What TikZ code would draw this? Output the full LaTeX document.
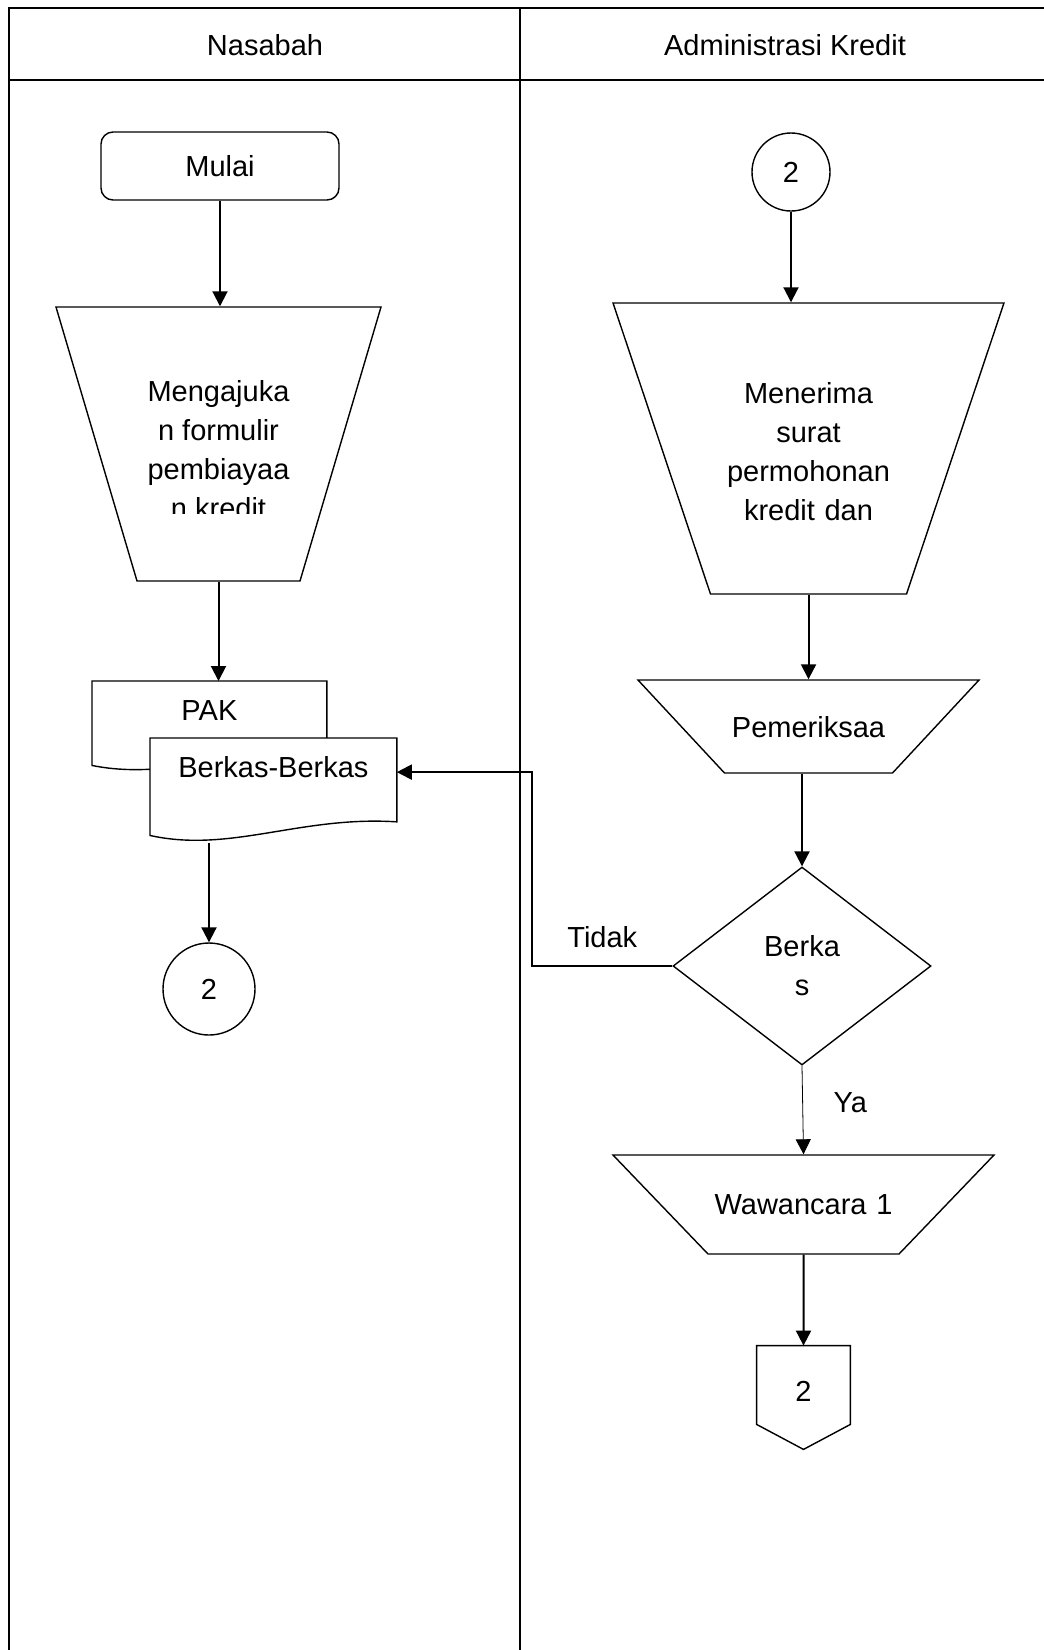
\documentclass[tikz,border=0pt]{standalone}
\usepackage{fontspec}
\setmainfont{Liberation Sans}
\usepackage{tikz}
\usetikzlibrary{positioning}
\usetikzlibrary{arrows.meta,shapes.geometric,calc,backgrounds}

\tikzset{
    mulaibox/.style={draw, rounded corners=6pt, minimum width=119pt, minimum height=34pt, line width=0.7pt},
    manop/.style={draw, trapezium, shape border rotate=180, line width=0.7pt, inner sep=0pt, align=center},
    konektor/.style={draw, circle, line width=0.7pt, inner sep=0pt},
    cekbox/.style={draw, diamond, aspect=1.3, minimum width=129pt, minimum height=99pt, inner sep=0pt, align=center, line width=0.7pt},
    docnode/.style={inner sep=0pt, text height=19.5pt, anchor=north west},
    alur/.style={->, line width=1pt},
}

% document outline with a wavy bottom, drawn round a named node
\newcommand{\docshape}[1]{%
    \draw[fill=white, line width=0.7pt] let \p1=(#1.north west), \p2=(#1.south east),
        \n1={\x2-\x1}, \n2={\y1-\y2} in
        (\p1) -- (\x2,\y1) -- (\x2,{\y1-0.8*\n2})
        .. controls ({\x1+0.61*\n1},{\y1-0.74*\n2}) and ({\x1+0.325*\n1},{\y1-1.1*\n2}) .. (\x1,{\y1-0.93*\n2}) -- cycle;}

\begin{document}
\begin{tikzpicture}[x=0.5pt, y=-0.5pt, >={Triangle[length=7.5pt,width=7.5pt]}, font=\fontsize{14.5}{19.5}\selectfont]
    \useasboundingbox (0,0) rectangle (1044,1650);
    %Lanes
    \draw[line width=1pt] (1044,8) -- (9,8) -- (9,1650);
    \draw[line width=1pt] (9,80) -- (1044,80);
    \draw[line width=1pt] (520,8) -- (520,1650);
    \node (nasabah) at (265,45) {Nasabah};
    \node (admin) at (785,45) {Administrasi Kredit};

    %Nasabah
    \node[mulaibox] (mulai) at (220,166) {Mulai};
    \node[manop, trapezium angle=73.53, inner xsep=40.75pt, inner ysep=68.5pt] (ajukan) at (218.5,444) {};
    \begin{scope}
        \clip (56,300) rectangle (381,513);
        \node[align=center, inner sep=0pt] (ajukantxt) at (218.5,450) {Mengajuka\\n formulir\\pembiayaa\\n kredit};
    \end{scope}
    \node[docnode, minimum width=117pt, text depth=25.5pt] (pak) at (92,681) {PAK};
    \node[docnode, minimum width=123pt, text depth=32.5pt] (berkas) at (150,738) {Berkas-Berkas};
    \begin{pgfonlayer}{background}
        \docshape{pak}
        \docshape{berkas}
    \end{pgfonlayer}
    \node[konektor, minimum size=46pt] (kon1) at (209,989) {2};

    %Administrasi Kredit
    \node[konektor, minimum size=39pt] (kon2) at (791,172) {2};
    \node[manop, trapezium angle=71.48, text width=98pt, text height=50pt, text depth=95.5pt] (terima) at (808.5,448.5)
          {Menerima\\surat\\permohonan\\kredit dan};
    \node[manop, trapezium angle=47.07, text width=84pt, text height=28.75pt, text depth=17.75pt] (periksa) at (808.5,726.5) {Pemeriksaa};
    \node[cekbox] (cek) at (802,966) {Berka\\s};
    \node[manop, trapezium angle=46.18, text width=95.5pt, text height=29.5pt, text depth=20pt] (wawancara) at (803.5,1204.5) {Wawancara 1};
    \node[minimum width=46.5pt, minimum height=45pt, inner sep=0pt] (lanjut) at (803.5,1391) {2};
    \draw[line width=0.7pt] (lanjut.north west) -- (lanjut.north east) -- ($(lanjut.south east)+(0,-12)$)
        -- ($(lanjut.south)+(0,13)$) -- ($(lanjut.south west)+(0,-12)$) -- cycle;

    %Lines
    \draw[alur] (mulai.south) -- (mulai.south |- ajukan.north);
    \draw[alur] (ajukan.south) -- (ajukan.south |- pak.north);
    \draw[alur] (berkas.south -| kon1.north) -- (kon1.north);
    \draw[alur] (kon2.south) -- (kon2.south |- terima.north);
    \draw[alur] (terima.south) -- (terima.south |- periksa.north);
    \draw[alur] (periksa.south -| cek.north) -- (cek.north);
    \draw[alur] (cek.west) -- node[above=5.5pt] (tidak) {Tidak} ++(-140,0) |- (berkas.mid east);
    \draw[->, line width=0.4pt] (cek.south) -- node[pos=0.42, right=12pt] (ya) {Ya} (wawancara.north);
    \draw[alur] (wawancara.south) -- (lanjut.north);
\end{tikzpicture}
\end{document}
